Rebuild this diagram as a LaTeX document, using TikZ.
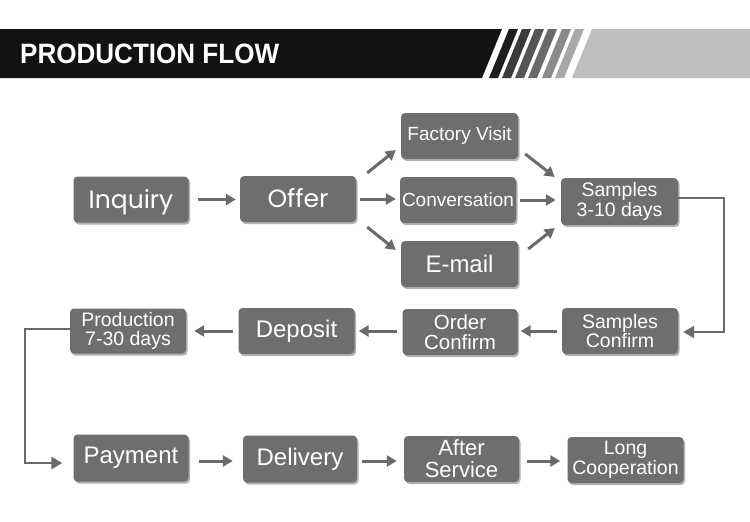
\documentclass[tikz,border=0pt]{standalone}
\usepackage{fontspec}
\usepackage{graphicx}
\setmainfont{Liberation Sans}
\newfontfamily\gothic{Poppins}
\usetikzlibrary{shadows,arrows.meta,calc}
\definecolor{boxgray}{HTML}{6E6E6E}
\definecolor{arrgray}{HTML}{6A6A6A}
\definecolor{bandgray}{HTML}{BEBEBE}
\newcommand{\fs}[1]{\fontsize{#1}{#1}\selectfont}
\begin{document}
\begin{tikzpicture}[x=1pt,y=-1pt,
  stepbox/.style={fill=boxgray, rounded corners=4pt, text=white, inner sep=0pt, align=center,
    minimum width=116pt, minimum height=46pt,
    drop shadow={shadow xshift=1.5pt, shadow yshift=-2pt, fill=black, opacity=0.3}},
  arr/.style={draw=arrgray, line width=3pt, -{Triangle[length=10pt,width=11pt]}},
  link/.style={draw=arrgray, line width=2.6pt, -{Triangle[length=11pt,width=12pt]}}]
\useasboundingbox (0,0) rectangle (750,522);
\fill[white] (0,0) rectangle (750,522);
% header band
\fill[black!93] (0,29) -- (502,29) -- (482,78) -- (0,78) -- cycle;
\foreach \x/\c in {509/1E1E1E,522/3A3A3A,535/555555,548/6A6A6A,562/8A8A8A,575/A8A8A8}{
  \definecolor{sc}{HTML}{\c}
  \fill[sc] (\x,29) -- (\x+9,29) -- (\x-11,78) -- (\x-20,78) -- cycle;
}
\fill[bandgray] (592,29) -- (750,29) -- (750,78) -- (572,78) -- cycle;
\node[anchor=base west, text=white, inner sep=0pt] (title) at (20,63)
  {\scalebox{0.93}[1]{\fs{28}\bfseries PRODUCTION FLOW}};
% row 1
\node[stepbox, minimum width=115pt, font=\gothic\fs{25}, text height=17pt, text depth=0pt] (inq) at (131,199.5) {Inquiry};
\node[stepbox, font=\gothic\fs{25}, text height=17pt, text depth=0pt] (off) at (298,199) {Offer};
\node[stepbox, minimum width=117pt, font=\fs{19}] (fv) at (459.5,136) {Factory Visit};
\node[stepbox, font=\fs{19}] (conv) at (458,200) {Conversation};
\node[stepbox, minimum width=117pt, font=\fs{24}] (email) at (459.5,264) {E-mail};
\node[stepbox, minimum width=117pt, minimum height=47pt, font=\fs{19.5}] (s310) at (619.5,201.5) {Samples\\3-10 days};
% row 2
\node[stepbox, minimum height=45pt, font=\fs{19.5}] (prod) at (128,331) {Production\\7-30 days};
\node[stepbox, font=\fs{24}] (dep) at (296.5,331) {Deposit};
\node[stepbox, minimum width=115pt, font=\fs{20.5}] (ord) at (460,332) {Order\\Confirm};
\node[stepbox, font=\fs{19.5}] (sc) at (620,331) {Samples\\Confirm};
% row 3
\node[stepbox, minimum width=115pt, minimum height=47pt, font=\fs{24}] (pay) at (131,458) {Payment};
\node[stepbox, minimum width=114pt, minimum height=47pt, font=\fs{24}] (del) at (300,459) {Delivery};
\node[stepbox, minimum width=115pt, font=\fs{22}] (aft) at (461.5,459) {After\\Service};
\node[stepbox, font=\fs{19.5}] (long) at (625.5,460) {Long\\Cooperation};
% connectors row 1
\draw[arr, shorten <=9.5pt, shorten >=4pt] (inq.east) -- (off.west |- inq.east);
\draw[arr] ($(off.east)+(11,-26)$) -- ($(fv.west)+(-5,14)$);
\draw[arr, shorten <=4pt, shorten >=4pt] (off.east) -- (conv.west |- off.east);
\draw[arr] ($(off.east)+(11,28)$) -- ($(email.west)+(-5,-14)$);
\draw[arr] ($(fv.east)+(7,18)$) -- ($(s310.west)+(-6,-24.5)$);
\draw[arr, shorten <=4pt, shorten >=5pt] (conv.east) -- (s310.west |- conv.east);
\draw[arr] ($(email.east)+(10,-15)$) -- ($(s310.west)+(-6,26.5)$);
% loop right
\coordinate (rtop) at (724,198);
\coordinate (rbot) at (724,332);
\draw[link, shorten >=5pt] (s310.east |- rtop) -- (rtop) -- (rbot) -- (sc.east |- rbot);
% row 2
\draw[arr, shorten <=5pt, shorten >=3pt] (sc.west) -- (ord.east |- sc.west);
\draw[arr, shorten <=5pt, shorten >=4pt] (ord.west |- sc.west) -- (dep.east |- sc.west);
\draw[arr, shorten <=5pt, shorten >=8pt] (dep.west) -- (prod.east |- dep.west);
% loop left
\coordinate (ltop) at (25,329);
\coordinate (lbot) at (25,463);
\draw[link, shorten >=11pt] (prod.west |- ltop) -- (ltop) -- (lbot) -- (pay.west |- lbot);
% row 3
\draw[arr, shorten <=10pt, shorten >=10pt] (pay.east |- 0,461) -- (del.west |- 0,461);
\draw[arr, shorten <=5pt, shorten >=7pt] (del.east |- 0,461) -- (aft.west |- 0,461);
\draw[arr, shorten <=8pt, shorten >=7pt] (aft.east |- 0,461) -- (long.west |- 0,461);
\end{tikzpicture}
\end{document}
